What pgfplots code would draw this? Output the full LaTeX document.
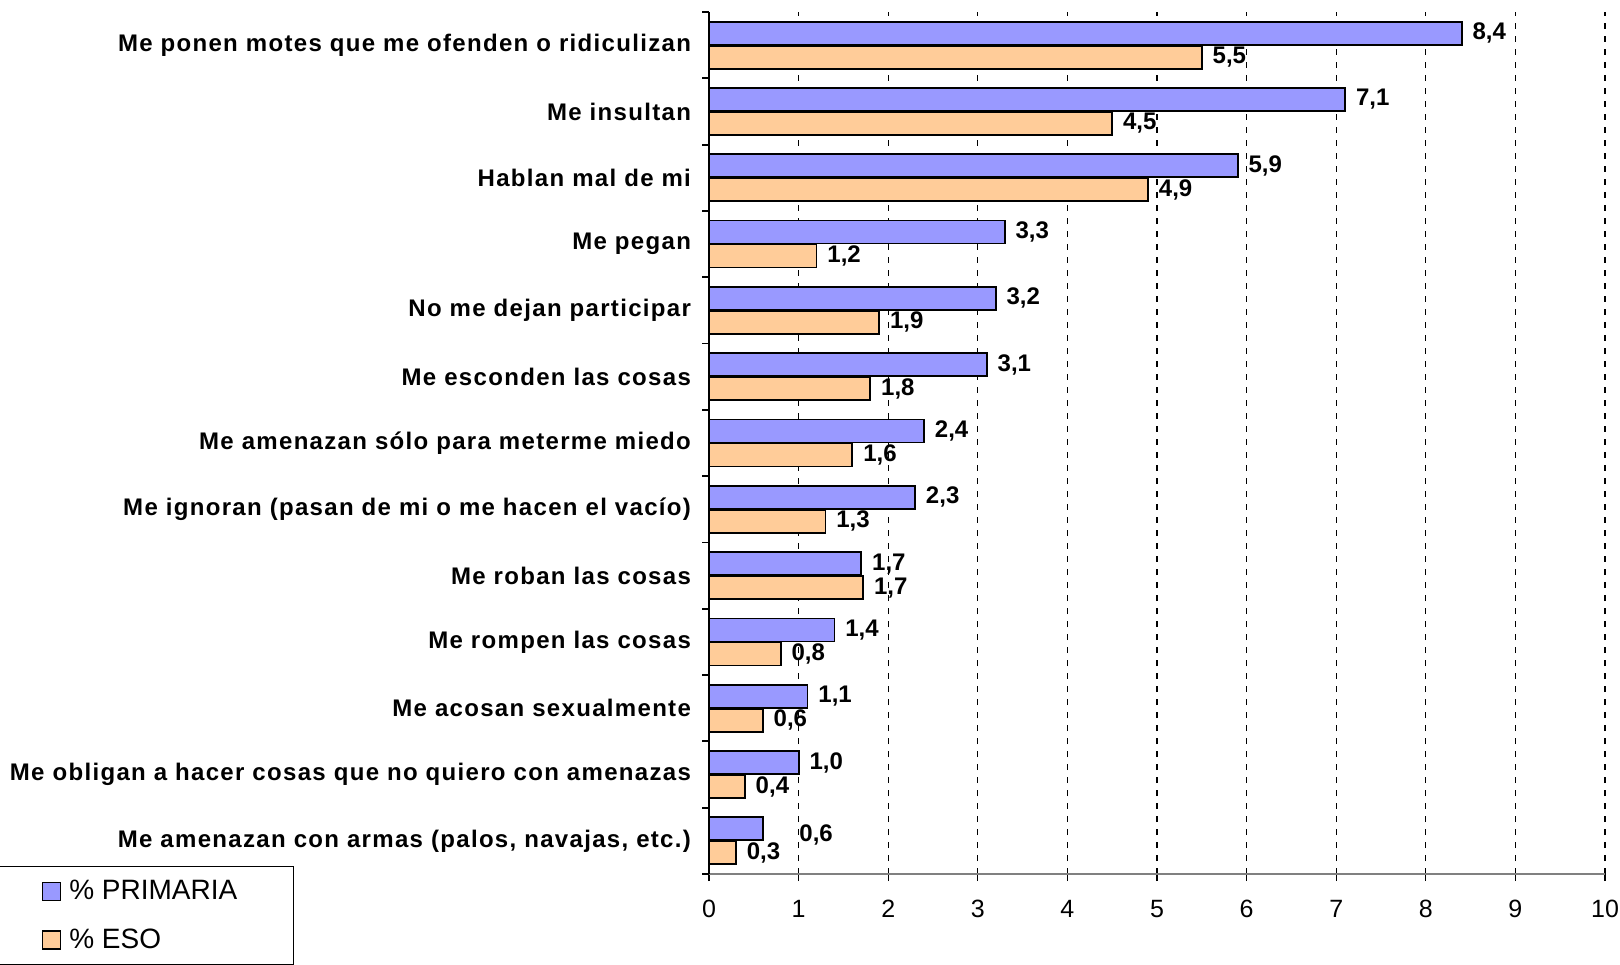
\documentclass[border=0pt]{standalone}
\usepackage{pgfplots}
\pgfplotsset{compat=1.18}
\usepackage{fontspec}
\setmainfont{Liberation Sans}
\newfontfamily\catfont{Liberation Sans}[LetterSpace=5.5]
\definecolor{prim}{RGB}{153,153,255}
\definecolor{eso}{RGB}{255,204,153}
\definecolor{axgray}{RGB}{128,128,128}
\begin{document}
\begin{tikzpicture}
\useasboundingbox (0,0) rectangle (810pt,482pt);
\begin{axis}[
  at={(354.5pt,45pt)}, anchor=south west,
  scale only axis, width=448pt, height=431pt,
  xmin=0, xmax=10, ymin=-0.5, ymax=12.5,
  axis x line*=bottom, axis y line*=left,
  x axis line style={axgray, line width=1pt},
  y axis line style={black, line width=0.9pt},
  xtick={0,...,10},
  ytick={0,...,12},
  minor ytick={-0.5,0.5,...,12.5},
  yticklabels={
    {Me amenazan con armas (palos, navajas, etc.)},
    {Me obligan a hacer cosas que no quiero con amenazas},
    {Me acosan sexualmente},
    {Me rompen las cosas},
    {Me roban las cosas},
    {Me ignoran (pasan de mi o me hacen el vacío)},
    {Me amenazan sólo para meterme miedo},
    {Me esconden las cosas},
    {No me dejan participar},
    {Me pegan},
    {Hablan mal de mi},
    {Me insultan},
    {Me ponen motes que me ofenden o ridiculizan}},
  tick align=outside,
  major tick length=3.5pt, minor tick length=3.5pt,
  major y tick style={draw=none},
  minor y tick style={black, line width=0.9pt},
  major x tick style={black, line width=0.6pt},
  xmajorgrids,
  major grid style={black, line width=0.6pt, dash pattern=on 3pt off 3.5pt},
  /pgf/number format/assume math mode=true,
  xticklabel style={font=\fontsize{12.5}{14}\selectfont, yshift=-6pt},
  yticklabel style={font=\fontsize{12}{14}\selectfont\catfont\bfseries, xshift=-2pt},
  xbar, bar width=11.5pt,
  clip=false,
  nodes near coords={\pgfmathprintnumber[fixed,fixed zerofill,precision=1,use comma,assume math mode=true]{\pgfplotspointmeta}},
  every node near coord/.append style={font=\fontsize{12}{14}\selectfont\bfseries, anchor=west, inner sep=0pt, xshift=5pt, black},
  legend cell align=left,
  legend style={at={(-0.7935,0.0095)}, anchor=north west, draw=black, line width=0.75pt,
    font=\fontsize{14}{17}\selectfont, inner xsep=21.5pt, inner ysep=5.8pt, row sep=11pt,
    nodes={inner sep=1pt},
    /tikz/every odd column/.append style={column sep=3pt}},
  legend image code/.code={\draw[#1, line width=0.75pt] (0pt,-4.5pt) rectangle (9pt,4.5pt);},
]
\addplot[fill=prim, draw=black, line width=0.9pt, bar shift=6pt] coordinates {
  (8.4,12) (7.1,11) (5.9,10) (3.3,9) (3.2,8) (3.1,7) (2.4,6) (2.3,5)
  (1.7,4) (1.4,3) (1.1,2) (1.0,1)};
\addlegendentry{\makebox[89.5pt][l]{\% PRIMARIA}}
\addplot[fill=prim, draw=black, line width=0.9pt, bar shift=6pt, forget plot,
  every node near coord/.append style={xshift=12.9pt, yshift=-3pt}] coordinates {(0.6,0)};
\addplot[fill=eso, draw=black, line width=0.9pt, bar shift=-6pt] coordinates {
  (5.5,12) (4.5,11) (4.9,10) (1.2,9) (1.9,8) (1.8,7) (1.6,6) (1.3,5)
  (1.72,4) (0.8,3) (0.6,2) (0.4,1) (0.3,0)};
\addlegendentry{\makebox[89.5pt][l]{\% ESO}}
\end{axis}
\end{tikzpicture}
\end{document}
